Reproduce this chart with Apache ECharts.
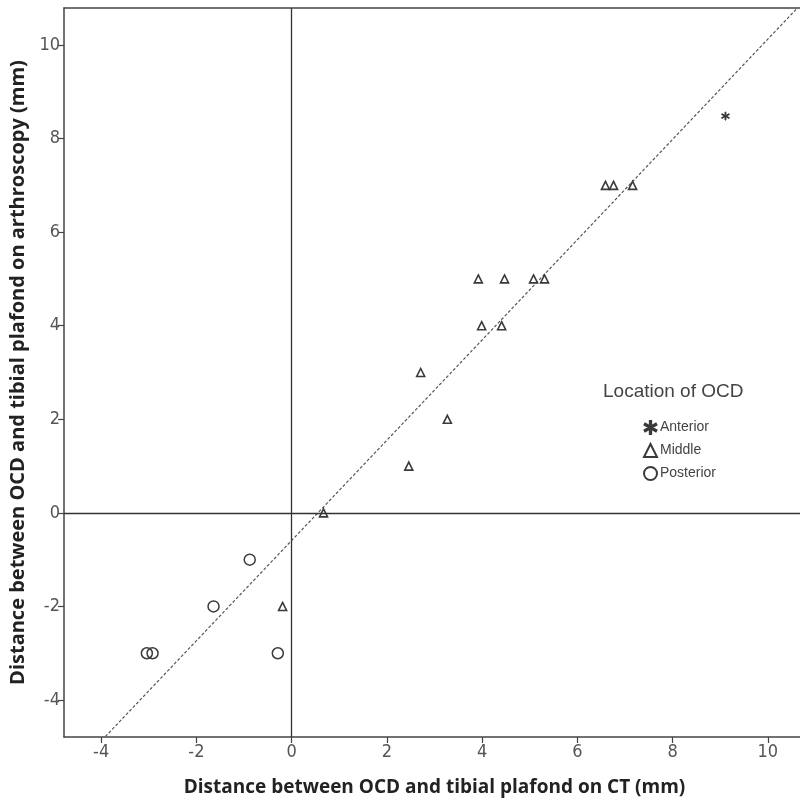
<!DOCTYPE html>
<html><head><meta charset="utf-8">
<script src="https://cdn.jsdelivr.net/npm/echarts@6/dist/echarts.min.js"></script>
<style>html,body{margin:0;padding:0;background:#fff}#c{width:800px;height:806px}</style>
</head><body><div id="c"></div>
<script>
// Data
const anteriorX = [9.11];
const anteriorY = [8.48];
const middleX = [6.59, 6.76, 7.16, 3.92, 4.47, 5.08, 5.31, 3.99, 4.41, 2.71, 3.27, 2.46, 0.67, -0.19];
const middleY = [7, 7, 7, 5, 5, 5, 5, 4, 4, 3, 2, 1, 0, -2];
const posteriorX = [-0.88, -1.64, -3.04, -2.92, -0.29];
const posteriorY = [-1, -2, -3, -3, -3];
const fitSlope = 1.0715;
const fitIntercept = -0.59;
const fitX = [-4.78, 10.78];
const xTicks = [-4, -2, 0, 2, 4, 6, 8, 10];
const yTicks = [-4, -2, 0, 2, 4, 6, 8, 10];
const seriesNames = ['Anterior', 'Middle', 'Posterior'];

const zip = (xs, ys) => xs.map((x, i) => [x, ys[i]]);
const fitData = fitX.map(x => [x, fitIntercept + fitSlope * x]);

const starPath = 'path://M-1,-10L1,-10L1,10L-1,10Z M9.16,4.13L8.16,5.87L-9.16,-4.13L-8.16,-5.87Z M-9.16,4.13L-8.16,5.87L9.16,-4.13L8.16,-5.87Z';
const ink = '#3a3a3a';
const narrow = '"Liberation Sans Narrow", "DejaVu Sans Condensed", Arial, sans-serif';
const sans = 'Arial, "Liberation Sans", sans-serif';
const titleFont = '"Open Sans", "DejaVu Sans", sans-serif';

const chart = echarts.init(document.getElementById('c'), null, {renderer: 'canvas'});
chart.setOption({
  animation: false,
  backgroundColor: '#ffffff',
  grid: {left: 64, top: 8, width: 741, height: 729, outerBoundsMode: 'none', containLabel: false, show: false},
  xAxis: [{
    type: 'value', min: -4.78, max: 10.78,
    name: 'Distance between OCD and tibial plafond on CT (mm)',
    nameLocation: 'middle', nameGap: 41,
    nameTextStyle: {fontFamily: titleFont, fontWeight: 'bold', fontSize: 19, color: '#222'},
    axisLine: {show: true, onZero: false, lineStyle: {color: '#444', width: 1.5}},
    axisTick: {show: true, inside: false, length: 6, customValues: xTicks, lineStyle: {color: '#444', width: 1.2}},
    axisLabel: {customValues: xTicks, fontFamily: narrow, fontSize: 18, color: '#555', margin: 6},
    splitLine: {show: false}
  }, {
    type: 'value', position: 'top', min: -4.78, max: 10.78,
    axisLine: {show: true, onZero: false, lineStyle: {color: '#444', width: 1.5}},
    axisTick: {show: false}, axisLabel: {show: false}, splitLine: {show: false}
  }],
  yAxis: {
    type: 'value', min: -4.79, max: 10.79,
    name: 'Distance between OCD and tibial plafond on arthroscopy (mm)',
    nameLocation: 'middle', nameGap: 35,
    nameTextStyle: {fontFamily: titleFont, fontWeight: 'bold', fontSize: 20, color: '#222'},
    axisLine: {show: true, onZero: false, lineStyle: {color: '#444', width: 1.5}},
    axisTick: {show: true, inside: false, length: 6, customValues: yTicks, lineStyle: {color: '#444', width: 1.2}},
    axisLabel: {customValues: yTicks, fontFamily: narrow, fontSize: 18, color: '#555', margin: 4},
    splitLine: {show: false}
  },
  legend: {
    orient: 'vertical', left: 638, top: 415, itemGap: 8, itemWidth: 13, itemHeight: 13,
    data: seriesNames,
    textStyle: {fontFamily: sans, fontSize: 14, color: '#444', padding: [0, 0, 0, -2]}
  },
  graphic: [{
    type: 'text', left: 603, top: 382,
    style: {text: 'Location of OCD', fontFamily: sans, fontSize: 19, fill: '#444'}
  }],
  series: [
    {
      name: 'fit', type: 'line', data: fitData, symbol: 'none', clip: true, silent: true,
      lineStyle: {color: '#555', width: 1.2, type: [3, 2]},
      markLine: {
        silent: true, symbol: 'none', label: {show: false},
        lineStyle: {color: '#333', width: 1.3, type: 'solid'},
        data: [{xAxis: 0}, {yAxis: 0}]
      },
      z: 1
    },
    {
      name: 'Anterior', type: 'scatter', data: zip(anteriorX, anteriorY),
      symbol: starPath, symbolSize: 8,
      itemStyle: {color: ink, borderColor: ink, borderWidth: 1, opacity: 1},
      z: 3
    },
    {
      name: 'Middle', type: 'scatter', data: zip(middleX, middleY),
      symbol: 'triangle', symbolSize: 8,
      itemStyle: {color: 'rgba(255,255,255,0)', borderColor: ink, borderWidth: 1.6, opacity: 1},
      z: 3
    },
    {
      name: 'Posterior', type: 'scatter', data: zip(posteriorX, posteriorY),
      symbol: 'circle', symbolSize: 11,
      itemStyle: {color: 'rgba(255,255,255,0)', borderColor: ink, borderWidth: 1.5, opacity: 1},
      z: 3
    }
  ]
});
</script>
</body></html>
